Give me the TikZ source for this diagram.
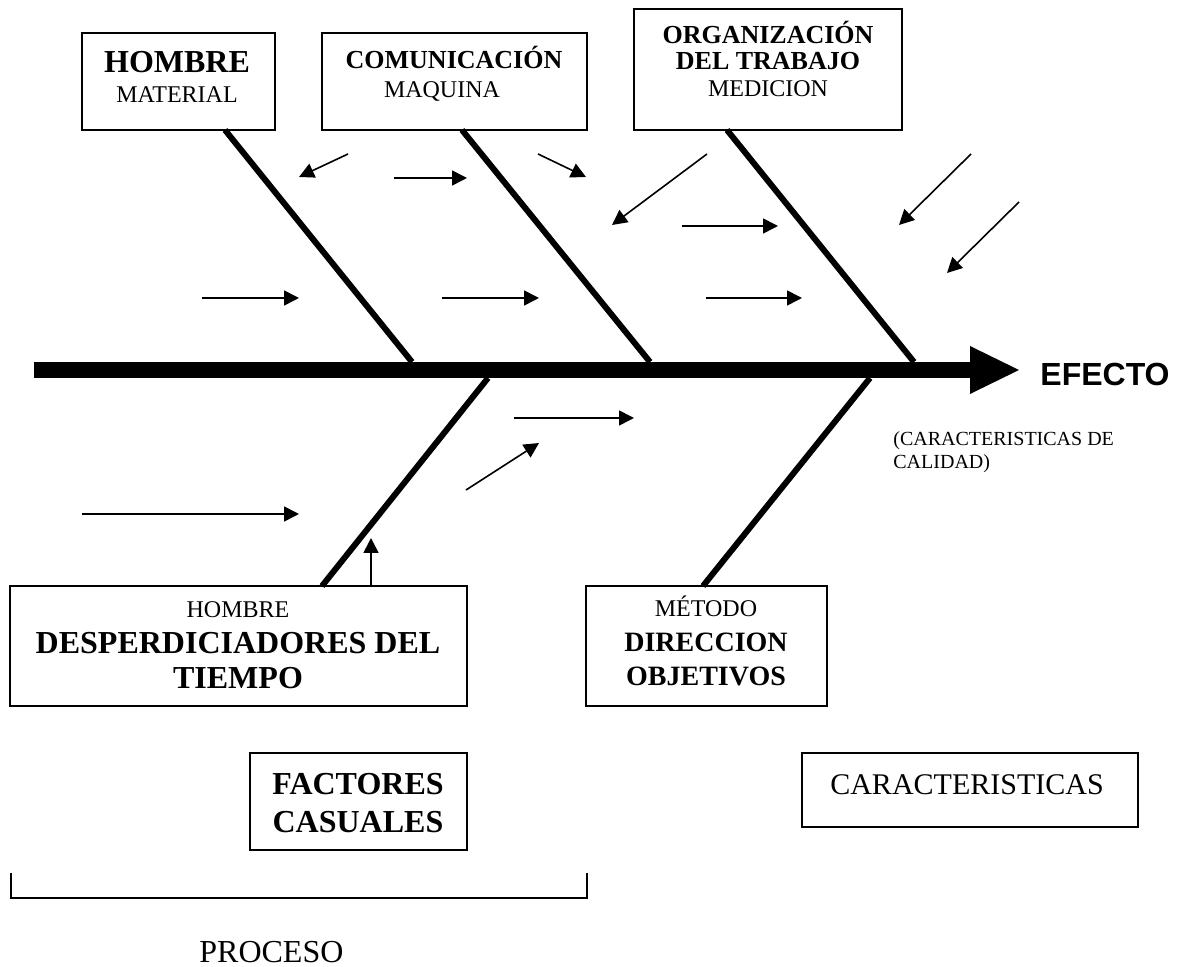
\documentclass[tikz,border=0pt]{standalone}
\usepackage{fontspec}
\setmainfont{Liberation Serif}
\newfontfamily\headsans{Liberation Sans}
\usetikzlibrary{arrows.meta}

\tikzset{
  box/.style={draw, line width=0.9pt, inner sep=0pt, outer sep=0pt},
  bone/.style={line width=3pt},
  spine/.style={line width=8pt, -{Triangle[length=24.5pt,width=24pt,line width=0pt]}},
  cause/.style={line width=0.8pt, -{Triangle[length=7.5pt,width=7.5pt]}},
  bracket/.style={line width=0.8pt},
  txt/.style={anchor=base, inner sep=0pt},
  bigb/.style={txt, font=\fontsize{16}{19}\selectfont\bfseries},
  midb/.style={txt, font=\fontsize{14}{17}\selectfont\bfseries},
  smlb/.style={txt, font=\fontsize{13}{16}\selectfont\bfseries},
  reg/.style={txt, font=\fontsize{12}{14}\selectfont},
  lrg/.style={txt, font=\fontsize{15}{18}\selectfont},
  note/.style={anchor=base west, inner sep=0pt, font=\fontsize{10}{12}\selectfont},
}

\begin{document}
\begin{tikzpicture}[x=0.5pt, y=-0.5pt]
\useasboundingbox (0,0) rectangle (1179,967);

% ---------- spine and effect ----------
\coordinate (tail) at (34,370);
\coordinate (head) at (1019,370);
\draw[spine] (tail) -- (head);
\node[anchor=base west, inner sep=0pt, font=\headsans\bfseries\fontsize{16}{19}\selectfont] (efecto) at (1040,386) {EFECTO};
\node[note] (cal1) at (893,446) {(CARACTERISTICAS DE};
\node[note] (cal2) at (893,469) {CALIDAD)};

% ---------- upper category boxes ----------
\node[box, minimum width=96.5pt, minimum height=48.5pt] (b1) at (178.5,81.5) {};
\node[bigb] (b1a) at (177,73) {HOMBRE};
\node[reg]  (b1b) at (177,103) {MATERIAL};

\node[box, minimum width=132.5pt, minimum height=48.5pt] (b2) at (454.5,81.5) {};
\node[smlb] (b2a) at (454,69) {COMUNICACIÓN};
\node[reg]  (b2b) at (442,98) {MAQUINA};

\node[box, minimum width=134pt, minimum height=60.5pt] (b3) at (768,69.5) {};
\node[smlb] (b3a) at (768,44) {ORGANIZACIÓN};
\node[smlb] (b3b) at (768,70) {DEL TRABAJO};
\node[reg]  (b3c) at (768,97) {MEDICION};

% ---------- lower category boxes ----------
\node[box, minimum width=228.5pt, minimum height=60pt] (b4) at (238.5,646) {};
\node[reg]  (b4a) at (238,618) {HOMBRE};
\node[bigb] (b4b) at (238,654) {DESPERDICIADORES DEL};
\node[bigb] (b4c) at (238,689) {TIEMPO};

\node[box, minimum width=120.5pt, minimum height=60pt] (b5) at (706.5,646) {};
\node[reg]  (b5a) at (706,617) {MÉTODO};
\node[midb] (b5b) at (706,652) {DIRECCION};
\node[midb] (b5c) at (706,686) {OBJETIVOS};

% ---------- legend boxes ----------
\node[box, minimum width=108.5pt, minimum height=48.5pt] (b6) at (358.5,801.5) {};
\node[bigb] (b6a) at (358,795) {FACTORES};
\node[bigb] (b6b) at (358,833) {CASUALES};

\node[box, minimum width=168pt, minimum height=37pt] (b7) at (970,790) {};
\node[lrg] (b7a) at (967,795) {CARACTERISTICAS};

% process bracket
\coordinate (k1) at (11,873);
\coordinate (k2) at (11,898);
\coordinate (k3) at (587,898);
\coordinate (k4) at (587,873);
\draw[bracket] (k1) -- (k2) -- (k3) -- (k4);
\node[anchor=base west, inner sep=0pt, font=\fontsize{16}{19}\selectfont] (proceso) at (199,962) {PROCESO};

% ---------- bones ----------
\coordinate (u1) at (225,130);  \coordinate (s1) at (412,362);
\coordinate (u2) at (462,130);  \coordinate (s2) at (650,362);
\coordinate (u3) at (727,130);  \coordinate (s3) at (914,362);
\coordinate (l4) at (322,586);  \coordinate (s4) at (488,378);
\coordinate (l5) at (703,586);  \coordinate (s5) at (870,378);
\draw[bone] (u1) -- (s1);
\draw[bone] (u2) -- (s2);
\draw[bone] (u3) -- (s3);
\draw[bone] (l4) -- (s4);
\draw[bone] (l5) -- (s5);

% ---------- secondary causes ----------
\foreach \n/\ax/\ay/\bx/\by in {
   1/348/154/299/177,  2/394/178/467/178,  3/538/154/586/177,
   4/707/154/612/225,  5/682/226/778/226,  6/971/154/899/225,
   7/1019/202/947/273, 8/202/298/299/298,  9/442/298/539/298,
  10/706/298/802/298, 11/514/418/634/418, 12/466/490/539/443,
  13/82/514/299/514,  14/371/586/371/538}{
  \coordinate (p\n) at (\ax,\ay);
  \coordinate (q\n) at (\bx,\by);
  \draw[cause] (p\n) -- (q\n);
}
\end{tikzpicture}
\end{document}
